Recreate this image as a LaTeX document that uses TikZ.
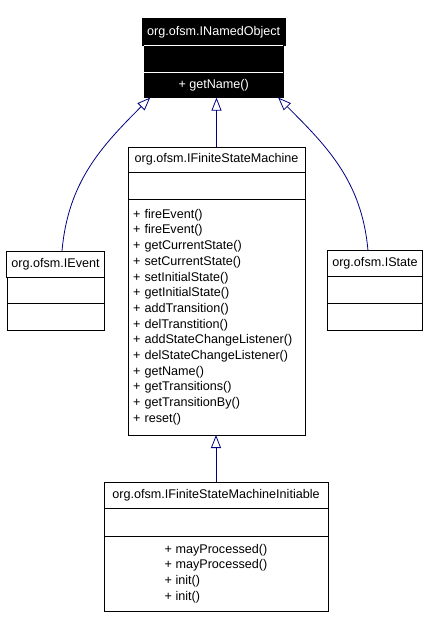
\documentclass[tikz,border=0pt]{standalone}
\usepackage{fontspec}
\setmainfont{Liberation Sans}
\usetikzlibrary{arrows.meta,positioning}
\definecolor{umlnavy}{HTML}{000080}

\begin{document}
\begin{tikzpicture}[
  every node/.style={font=\fontsize{12.6}{15.7}\selectfont},
  part/.style={draw=black,line width=1pt,outer sep=0pt,inner xsep=5pt,inner ysep=2pt,fill=white},
  dark/.style={part,fill=black,text=white},
  ops/.style={part,align=left},
  inherit/.style={-{Triangle[open,length=13pt,width=10pt]},draw=umlnavy,line width=0.8pt}
]
\useasboundingbox (0,0) rectangle (430pt,-627pt);
% INamedObject
\node[dark,minimum width=139pt,minimum height=27pt,anchor=north] (nobhead) at (213.7pt,-18.3pt) {org.ofsm.INamedObject};
\node[dark,minimum width=139pt,minimum height=26.7pt,below=0pt of nobhead] (nobattr) {};
\node[dark,minimum width=139pt,minimum height=25.6pt,below=0pt of nobattr] (nobops) {+ getName()};
\draw[white,line width=1pt] (nobattr.north west) -- (nobattr.north east);
\draw[white,line width=1pt] (nobops.north west) -- (nobops.north east);
% IFiniteStateMachine
\node[part,minimum width=177pt,minimum height=25pt,anchor=north] (fsmhead) at (216.5pt,-147pt) {org.ofsm.IFiniteStateMachine};
\node[part,minimum width=177pt,minimum height=27pt,below=0pt of fsmhead] (fsmattr) {};
\node[ops,minimum width=177pt,text width=167pt,minimum height=236pt,below=0pt of fsmattr] (fsmops) {+ fireEvent()\\+ fireEvent()\\+ getCurrentState()\\+ setCurrentState()\\+ setInitialState()\\+ getInitialState()\\+ addTransition()\\+ delTranstition()\\+ addStateChangeListener()\\+ delStateChangeListener()\\+ getName()\\+ getTransitions()\\+ getTransitionBy()\\+ reset()};
% IEvent
\node[part,minimum width=97pt,minimum height=26pt,anchor=north] (evhead) at (55.5pt,-251pt) {org.ofsm.IEvent};
\node[part,minimum width=97pt,minimum height=26pt,below=0pt of evhead] (evattr) {};
\node[part,minimum width=97pt,minimum height=27pt,below=0pt of evattr] (evops) {};
% IState
\node[part,minimum width=95.4pt,minimum height=26pt,anchor=north] (sthead) at (375pt,-250.7pt) {org.ofsm.IState};
\node[part,minimum width=95.4pt,minimum height=26.6pt,below=0pt of sthead] (stattr) {};
\node[part,minimum width=95.4pt,minimum height=26.7pt,below=0pt of stattr] (stops) {};
% IFiniteStateMachineInitiable
\node[part,minimum width=224pt,minimum height=26pt,anchor=north] (fsmihead) at (216pt,-482pt) {org.ofsm.IFiniteStateMachineInitiable};
\node[part,minimum width=224pt,minimum height=28pt,below=0pt of fsmihead] (fsmiattr) {};
\node[ops,minimum width=224pt,minimum height=75pt,below=0pt of fsmiattr] (fsmiops) {+ mayProcessed()\\+ mayProcessed()\\+ init()\\+ init()};
% generalisations
\draw[inherit] (fsmhead.north) -- (fsmhead.north |- nobops.south);
\draw[inherit] ([xshift=6.5pt]evhead.north) to[out=85,in=-135] ([xshift=6pt]nobops.south west);
\draw[inherit] ([xshift=-7pt]sthead.north) to[out=95,in=-45] ([xshift=-5pt]nobops.south east);
\draw[inherit] (fsmihead.north) -- (fsmihead.north |- fsmops.south);
\end{tikzpicture}
\end{document}
